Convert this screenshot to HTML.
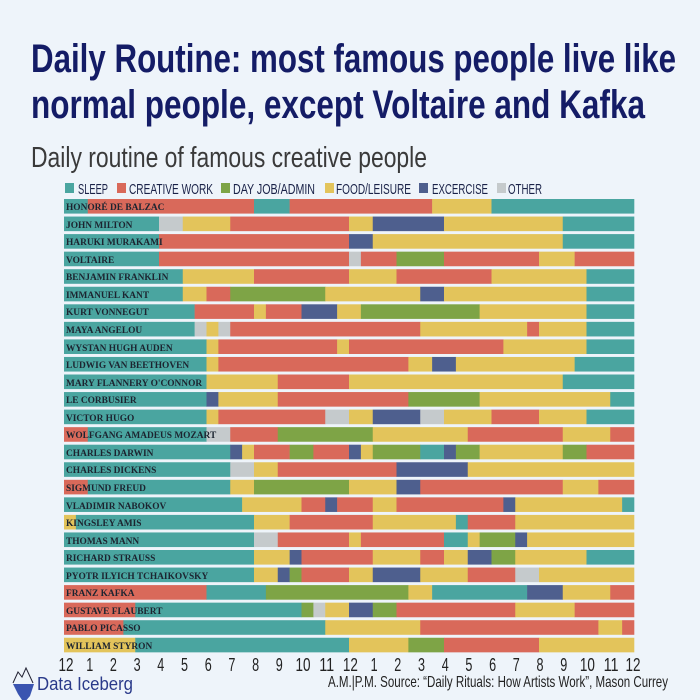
<!DOCTYPE html>
<html><head><meta charset="utf-8">
<style>
html,body{margin:0;padding:0;background:#eef4fa;}
svg{display:block;}
.lbl{font-family:"Liberation Serif",serif;font-weight:bold;font-size:9.4px;fill:#1c2430;}
.tk{font-family:"Liberation Sans",sans-serif;font-size:18px;fill:#222;}
.lg{font-family:"Liberation Sans",sans-serif;font-size:14.5px;fill:#1a2248;}
</style></head>
<body>
<svg id="s" width="700" height="700" viewBox="0 0 700 700" xmlns="http://www.w3.org/2000/svg">
<rect width="700" height="700" fill="#eef4fa"/>
<text x="31" y="72" font-family="Liberation Sans, sans-serif" font-weight="bold" font-size="40" fill="#141c66" textLength="645" lengthAdjust="spacingAndGlyphs">Daily Routine: most famous people live like</text>
<text x="31" y="118" font-family="Liberation Sans, sans-serif" font-weight="bold" font-size="40" fill="#141c66" textLength="614" lengthAdjust="spacingAndGlyphs">normal people, except Voltaire and Kafka</text>
<text x="31" y="167" font-family="Liberation Sans, sans-serif" font-size="29" fill="#3a3a3a" textLength="396" lengthAdjust="spacingAndGlyphs">Daily routine of famous creative people</text>
<g id="legend">
<rect x="65" y="183" width="9" height="10" fill="#4aa5a0"/><text class="lg" x="78" y="194" textLength="30" lengthAdjust="spacingAndGlyphs">SLEEP</text>
<rect x="117" y="183" width="9" height="10" fill="#d9695a"/><text class="lg" x="129" y="194" textLength="84" lengthAdjust="spacingAndGlyphs">CREATIVE WORK</text>
<rect x="221" y="183" width="9" height="10" fill="#7ea446"/><text class="lg" x="233" y="194" textLength="82" lengthAdjust="spacingAndGlyphs">DAY JOB/ADMIN</text>
<rect x="325" y="183" width="9" height="10" fill="#e3c45b"/><text class="lg" x="336" y="194" textLength="75" lengthAdjust="spacingAndGlyphs">FOOD/LEISURE</text>
<rect x="419" y="183" width="9" height="10" fill="#4e5f8e"/><text class="lg" x="432" y="194" textLength="56" lengthAdjust="spacingAndGlyphs">EXCERCISE</text>
<rect x="497" y="183" width="9" height="10" fill="#c5cacc"/><text class="lg" x="508" y="194" textLength="34" lengthAdjust="spacingAndGlyphs">OTHER</text>
</g>
<g id="bars"></g>
<g id="labels">
<text class="lbl" x="66" y="210">HONORÉ DE BALZAC</text>
<text class="lbl" x="66" y="228">JOHN MILTON</text>
<text class="lbl" x="66" y="245">HARUKI MURAKAMI</text>
<text class="lbl" x="66" y="263">VOLTAIRE</text>
<text class="lbl" x="66" y="280">BENJAMIN FRANKLIN</text>
<text class="lbl" x="66" y="298">IMMANUEL KANT</text>
<text class="lbl" x="66" y="315">KURT VONNEGUT</text>
<text class="lbl" x="66" y="333">MAYA ANGELOU</text>
<text class="lbl" x="66" y="351">WYSTAN HUGH AUDEN</text>
<text class="lbl" x="66" y="368">LUDWIG VAN BEETHOVEN</text>
<text class="lbl" x="66" y="386">MARY FLANNERY O'CONNOR</text>
<text class="lbl" x="66" y="403">LE CORBUSIER</text>
<text class="lbl" x="66" y="421">VICTOR HUGO</text>
<text class="lbl" x="66" y="438">WOLFGANG AMADEUS MOZART</text>
<text class="lbl" x="66" y="456">CHARLES DARWIN</text>
<text class="lbl" x="66" y="473">CHARLES DICKENS</text>
<text class="lbl" x="66" y="491">SIGMUND FREUD</text>
<text class="lbl" x="66" y="509">VLADIMIR NABOKOV</text>
<text class="lbl" x="66" y="526">KINGSLEY AMIS</text>
<text class="lbl" x="66" y="544">THOMAS MANN</text>
<text class="lbl" x="66" y="561">RICHARD STRAUSS</text>
<text class="lbl" x="66" y="579">PYOTR ILYICH TCHAIKOVSKY</text>
<text class="lbl" x="66" y="596">FRANZ KAFKA</text>
<text class="lbl" x="66" y="614">GUSTAVE FLAUBERT</text>
<text class="lbl" x="66" y="631">PABLO PICASSO</text>
<text class="lbl" x="66" y="649">WILLIAM STYRON</text>
</g>
<g id="ticks" class="tk" text-anchor="middle"></g>
<text x="328" y="687" font-family="Liberation Sans, sans-serif" font-size="16" fill="#222" textLength="340" lengthAdjust="spacingAndGlyphs">A.M.|P.M.    Source: “Daily Rituals: How Artists Work”, Mason Currey</text>
<g>
<path d="M13 683 L18 672 L22 677 L26 668 L33 683" fill="none" stroke="#223" stroke-width="1"/>
<path d="M13 684 L34 684 L30 696 L24 703 L18 694 Z" fill="#3a54b0"/>
<text x="37" y="690" font-family="Liberation Sans, sans-serif" font-size="18" fill="#2a3a8a" textLength="96" lengthAdjust="spacingAndGlyphs">Data Iceberg</text>
</g>
</svg>
<script>
var C={S:"#4aa5a0",R:"#d9695a",G:"#7ea446",Y:"#e3c45b",E:"#4e5f8e",O:"#c5cacc"};
var rows=[
"S0 R1 S8 R9.5 Y15.5 S18",
"S0 O4 Y5 R7 Y12 E13 Y16 S21",
"S0 R4 E12 Y13 S21",
"S0 R4 O12 R12.5 G14 R16 Y20 R21.5",
"S0 Y5 R8 Y12 R14 Y18 S22",
"S0 Y5 R6 G7 Y11 E15 Y16 S22",
"S0 R5.5 Y8 R8.5 E10 Y11.5 G12.5 Y17.5 S22",
"S0 O5.5 Y6 O6.5 R7 Y15 R19.5 Y20 S22",
"S0 Y6 R6.5 Y11.5 R12 Y18.5 S22",
"S0 Y6 R6.5 Y14.5 E15.5 Y16.5 S21.5",
"S0 Y6 R9 Y12 S21",
"S0 E6 Y6.5 R9 G14.5 Y17.5 S23",
"S0 Y6 R6.5 O11 Y12 E13 O15 Y16 R18 Y20 S22",
"R0 S1 O6 R7 G9 Y13 R17 Y21 R23",
"S0 E7 Y7.5 R8 G9.5 R10.5 E12 Y12.5 G13 S15 E16 G16.5 Y17.5 G21 R22",
"S0 O7 Y8 R9 E14 Y17",
"R0 S1 Y7 G8 Y12 E14 R15 Y21 R22.5",
"S0 Y7.5 R10 E11 R11.5 Y13 R14 E18.5 Y19 S23.5",
"Y0 S0.5 Y8 R9.5 Y13 S16.5 R17 Y19",
"S0 O8 R9 Y12 R12.5 S16 Y17 G17.5 E19 Y19.5",
"S0 Y8 E9.5 R10 Y13 R15 Y16 E17 G18 Y19 S22",
"S0 Y8 E9 G9.5 R10 Y12 E13 Y15 R17 O19 Y20",
"R0 S6 G8.5 Y14.5 S15.5 E19.5 Y21 R23",
"R0 S3 G10 O10.5 Y11 E12 G13 R14 Y19 R21.5",
"R0 S2.5 Y11 R15 Y22.5 R23.5",
"Y0 S3 Y12 G14.5 R16 Y20"];
var g=document.getElementById("bars"),h="",x0=64,k=23.75;
rows.forEach(function(r,i){
 var y=199+i*17.55,p=r.split(" ");
 for(var j=0;j<p.length;j++){
  var c=C[p[j][0]],a=parseFloat(p[j].slice(1)),b=j+1<p.length?parseFloat(p[j+1].slice(1)):24;
  h+='<rect x="'+(x0+a*k).toFixed(2)+'" y="'+y.toFixed(2)+'" width="'+((b-a)*k+0.3).toFixed(2)+'" height="14.6" fill="'+c+'"/>';
 }
});
g.innerHTML=h;
var t="",lab=[12,1,2,3,4,5,6,7,8,9,10,11,12,1,2,3,4,5,6,7,8,9,10,11,12];
lab.forEach(function(v,i){var x=66+i*23.7;if(i==24)x=633;var w=v>9?15:7;
 t+='<text x="'+x.toFixed(1)+'" y="671" textLength="'+w+'" lengthAdjust="spacingAndGlyphs">'+v+'</text>';});
document.getElementById("ticks").innerHTML=t;
</script>
</body></html>
